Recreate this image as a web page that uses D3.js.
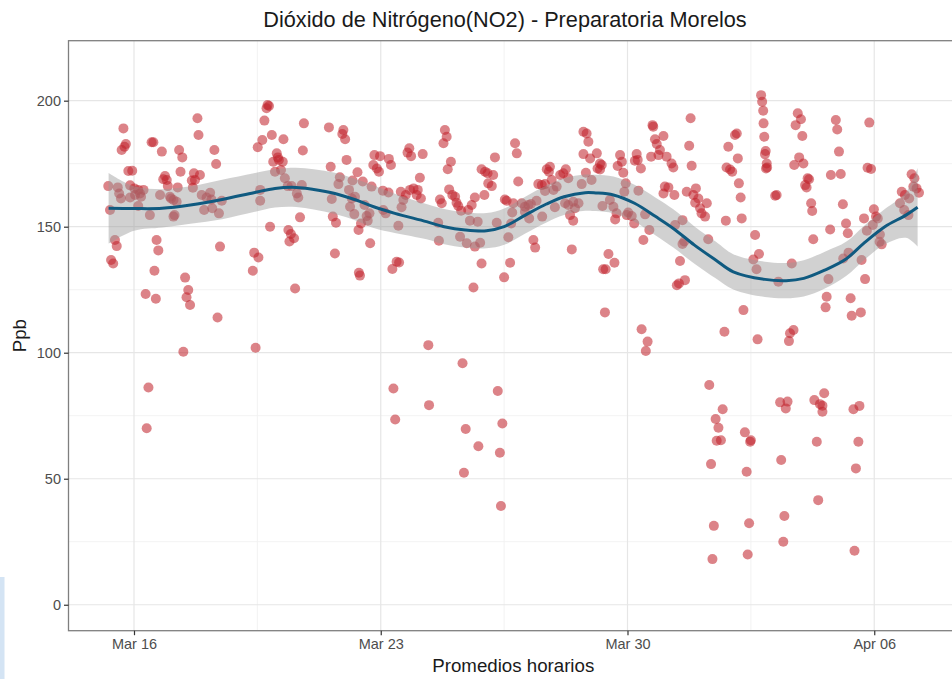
<!DOCTYPE html>
<html>
<head>
<meta charset="utf-8">
<script src="https://cdn.jsdelivr.net/npm/d3@7"></script>
<style>
  body { margin: 0; background: #fff; }
  svg { display: block; font-family: "Liberation Sans", Arial, sans-serif; }
</style>
</head>
<body>
<svg id="chart" width="952" height="679"></svg>
<script>
// hourly NO2 readings, [days since Mar 15 00:00, ppb]
const readingsMar15to19 = [
  [0.70,189.0],[0.77,182.8],[0.73,181.7],[0.65,180.4],[1.50,183.5],[1.55,183.5],[1.79,179.8],[2.80,193.0],
  [2.83,186.4],[2.28,180.4],[2.37,177.5],[3.28,180.4],[3.33,174.9],[0.84,172.1],[0.95,172.2],[1.88,170.1],
  [1.83,168.8],[1.93,168.5],[2.32,171.8],[2.70,171.2],[2.87,170.5],[2.73,168.5],[2.64,168.3],[0.27,166.1],
  [0.54,165.6],[0.89,166.4],[1.01,165.2],[1.12,164.6],[1.27,164.6],[0.58,163.2],[0.63,161.2],[0.89,161.6],
  [1.03,162.6],[1.20,161.9],[1.17,163.2],[1.96,166.1],[2.24,165.6],[2.67,165.5],[1.74,162.6],[2.02,161.9],
  [2.12,160.6],[2.21,159.9],[2.05,161.2],[2.92,162.6],[3.16,163.5],[3.06,161.6],[3.20,160.8],[3.49,160.3],
  [1.12,158.2],[1.45,154.6],[2.15,154.6],[2.12,154.0],[0.32,156.6],[2.99,156.6],[3.22,157.3],[3.41,155.3],
  [0.46,144.7],[0.51,142.3],[1.64,144.7],[1.69,140.6],[3.44,142.1],[0.35,136.8],[0.41,135.4],[4.41,139.7],
  [4.53,137.8],[4.37,132.5],[1.58,132.5],[2.45,129.8],[2.54,124.9],[2.49,122.0],[2.59,118.9],[1.33,123.3],
  [1.62,121.4],[3.37,114.0],[2.40,100.4],[4.45,102.0],[1.41,86.2],[1.36,70.0]
];
const readingsMar19to24 = [
  [4.79,198.3],[4.76,197.0],[4.83,197.9],[4.70,192.1],[4.91,186.4],[4.64,184.4],[4.51,181.5],[5.24,184.7],
  [5.82,191.0],[5.79,180.2],[6.53,189.4],[6.94,188.4],[6.91,186.8],[6.99,184.7],[7.03,176.5],[6.58,173.8],
  [5.05,179.1],[4.95,175.8],[5.11,176.5],[5.22,175.8],[5.08,177.5],[5.00,171.8],[5.17,172.5],[5.28,169.2],
  [5.36,166.1],[5.47,166.1],[5.76,166.5],[5.62,163.2],[5.66,161.6],[4.58,164.6],[4.58,160.3],[7.82,178.4],
  [7.98,178.0],[7.79,174.5],[7.89,173.1],[7.95,171.8],[8.23,176.9],[8.29,174.5],[7.34,171.6],[6.84,169.6],
  [7.20,168.3],[7.49,167.9],[6.80,166.9],[7.74,165.9],[8.06,164.3],[8.22,163.6],[7.10,164.6],[7.18,161.2],
  [7.27,161.9],[6.61,161.0],[7.13,157.9],[7.54,158.6],[7.25,155.0],[7.68,155.3],[7.60,154.2],[7.63,152.4],
  [7.44,151.3],[7.37,148.7],[8.07,156.6],[8.14,155.3],[6.64,154.0],[6.73,151.6],[5.71,153.7],[4.86,150.0],
  [5.38,148.7],[5.45,147.1],[5.54,145.4],[5.41,144.1],[7.70,143.4],[6.70,139.4],[7.38,131.7],[7.41,130.6],
  [8.45,136.1],[8.52,135.8],[8.33,133.2],[5.57,125.5],[8.36,85.8],[8.41,73.5],[8.81,181.1],[8.76,179.4],
  [8.86,178.0],[9.19,178.8],[9.11,169.4],[8.57,163.9],[8.71,162.6],[8.83,164.6],[8.93,165.2],[9.05,164.6],
  [9.02,162.6],[9.14,161.2],[8.64,160.6],[8.59,157.7],[8.50,150.4]
];
const readingsMar24to29 = [
  [9.82,188.4],[9.87,185.7],[9.78,183.1],[9.99,175.8],[9.90,172.8],[11.24,177.5],[11.81,183.1],[11.86,179.1],
  [10.86,172.8],[10.96,171.8],[11.03,171.2],[11.19,170.5],[11.05,167.2],[11.15,166.1],[9.94,164.8],[10.03,162.6],
  [10.11,161.9],[10.15,159.5],[10.20,158.2],[9.68,160.8],[9.73,159.3],[10.67,161.6],[10.58,158.6],[10.48,156.6],
  [10.28,156.3],[10.94,162.6],[9.63,151.6],[9.65,144.4],[10.53,152.4],[10.75,152.0],[11.29,151.6],[10.25,146.0],
  [10.44,143.4],[10.67,142.1],[10.82,143.6],[10.86,135.4],[11.62,145.8],[11.67,135.7],[11.50,129.9],[10.63,125.9],
  [11.52,160.8],[11.57,160.3],[11.76,159.3],[11.73,155.6],[11.70,151.3],[11.90,167.9],[12.00,159.3],[12.09,157.9],
  [12.19,158.6],[12.26,159.0],[12.42,160.3],[12.09,155.9],[12.21,153.3],[12.33,144.7],[12.38,141.7],[12.47,166.9],
  [12.57,166.5],[12.66,166.9],[12.71,172.8],[12.80,173.8],[12.77,171.8],[12.85,168.5],[12.99,165.9],[13.09,170.5],
  [13.18,171.2],[13.25,172.8],[13.32,169.2],[12.66,164.2],[12.90,164.6],[12.58,154.0],[12.94,157.7],[13.23,159.3],
  [13.32,158.6],[13.46,159.9],[13.61,159.3],[13.51,157.3],[13.37,154.6],[13.46,152.4],[13.42,141.0],[13.70,166.9],
  [13.82,171.4],[13.75,187.7],[13.84,187.0],[13.89,183.7],[13.75,178.8],[13.94,177.1],[13.98,168.5],[9.35,103.0],
  [9.37,79.2],[10.32,95.8],[11.32,84.8],[11.45,71.9],[10.41,69.7],[10.77,62.9],[11.38,60.3],[10.36,52.4],
  [11.41,39.2]
];
const readingsMar29toApr03 = [
  [14.13,179.1],[14.22,175.1],[14.27,174.5],[14.15,173.1],[14.22,172.7],[14.79,178.4],[14.84,175.8],[14.72,174.1],
  [14.88,171.4],[15.26,178.8],[15.29,176.5],[15.21,176.2],[15.38,173.1],[15.71,190.3],[15.73,189.7],[16.02,186.0],
  [15.78,184.7],[15.83,182.8],[15.92,180.4],[15.88,178.4],[15.67,177.8],[16.11,177.8],[16.25,175.1],[16.30,173.5],
  [16.79,193.0],[16.75,182.1],[16.82,174.2],[14.95,167.2],[14.91,163.9],[15.31,164.3],[16.06,165.9],[16.16,165.6],
  [16.02,163.2],[16.33,162.6],[16.68,163.9],[16.94,165.2],[16.87,162.6],[17.01,161.2],[16.92,159.5],[17.06,157.3],
  [17.25,159.3],[17.10,155.3],[17.20,154.0],[14.29,158.2],[14.50,160.6],[14.60,157.9],[14.69,155.3],[14.65,152.9],
  [15.02,155.6],[15.12,154.2],[15.19,151.3],[14.98,154.6],[15.50,154.9],[15.62,148.7],[15.45,144.7],[16.56,152.6],
  [16.35,150.7],[16.61,144.1],[16.56,143.1],[17.29,145.0],[14.46,139.2],[14.63,135.7],[14.31,133.1],[14.38,133.1],
  [16.49,136.4],[16.40,126.8],[16.46,127.5],[16.63,128.8],[14.36,116.0],[15.40,109.3],[15.57,104.4],[15.52,100.7],
  [17.79,152.4],[18.24,153.3],[17.86,181.7],[18.05,186.4],[18.10,187.0],[18.13,177.1],[17.81,173.5],[17.91,172.7],
  [17.97,171.8],[18.16,167.2],[18.21,161.6],[18.62,146.7],[18.73,139.2],[18.57,137.0],[18.66,133.1],[18.29,116.9],
  [17.75,108.3],[18.69,105.3],[17.32,87.2],[17.70,77.6],[17.50,73.7],[17.58,70.2],[17.53,65.1],[17.65,65.3],
  [17.37,55.8],[18.33,68.4],[18.50,65.3],[18.48,64.7],[18.38,52.8],[17.45,31.3],[18.45,32.3],[17.41,18.1],
  [18.41,19.9],[18.79,202.2],[18.82,199.6],[18.85,196.0],[18.86,191.0],[18.88,185.7],[18.92,180.0],[18.90,178.8],
  [18.95,175.1],[18.96,173.5],[18.93,173.1]
];
const readingsApr03to07 = [
  [19.83,195.0],[19.92,192.6],[19.77,190.3],[19.96,186.0],[19.87,177.5],[19.73,174.5],[19.99,175.1],[20.11,169.2],
  [20.15,168.8],[20.04,166.5],[20.08,165.6],[19.23,162.6],[19.19,162.3],[20.21,159.3],[20.24,156.2],[20.91,192.3],
  [20.95,188.6],[21.00,179.8],[21.86,191.3],[20.77,170.5],[21.05,170.9],[21.81,173.4],[21.91,172.9],[21.11,158.9],
  [21.20,151.3],[21.25,147.4],[20.75,148.9],[21.71,153.3],[21.99,156.9],[22.05,154.0],[22.10,153.3],[21.96,150.7],
  [21.79,148.4],[20.27,145.0],[22.16,146.9],[22.21,143.0],[22.15,144.0],[23.06,170.8],[23.14,169.2],[22.78,163.9],
  [22.87,162.6],[22.99,161.2],[23.11,165.9],[23.20,165.2],[23.27,163.5],[22.73,159.3],[22.85,156.6],[22.97,154.6],
  [19.66,135.4],[19.28,128.2],[21.12,137.4],[21.27,139.7],[21.64,136.8],[21.74,129.2],[20.70,129.2],[20.65,122.2],
  [20.62,118.0],[21.33,121.6],[21.36,114.7],[21.62,116.0],[19.71,109.0],[19.61,107.7],[19.58,104.6],[19.33,80.3],
  [19.54,80.6],[19.49,77.9],[20.30,81.2],[20.58,83.9],[20.46,79.6],[20.53,79.0],[20.53,76.6],[21.41,77.6],
  [21.58,78.9],[20.37,64.7],[21.55,64.7],[19.36,57.4],[21.48,54.1],[20.41,41.5],[19.45,35.2],[19.42,25.0],
  [21.44,21.4]
];

// loess fit and its confidence half-width
const smoothDay = [0.28, 1.0, 1.8, 2.6, 3.5, 4.4, 5.0, 5.6, 6.1, 6.7, 7.3, 7.8, 8.4, 9.3, 9.8, 10.4, 11.0, 11.5,
  12.1, 12.7, 13.2, 13.8, 14.1, 14.6, 15.2, 15.8, 16.3, 16.9, 17.5, 18.0, 18.9, 19.5, 20.0, 20.6, 21.2, 21.7, 22.3, 22.9, 23.23];
const smoothFit = [157.3, 157.2, 157.3, 158.6, 160.8, 163.5, 165.2, 165.6, 164.8, 163.2, 160.6, 157.9, 155.3, 152.0,
  150.0, 148.7, 148.4, 150.0, 154.6, 159.0, 161.9, 163.5, 163.4, 162.6, 159.3, 154.0, 149.3, 142.7, 136.8, 132.1,
  129.1, 128.6, 129.5, 132.8, 137.2, 143.4, 150.0, 154.6, 157.7];
const smoothHalf = [14.0, 8.8, 7.6, 7.4, 7.8, 7.7, 7.6, 7.8, 8.0, 8.2, 8.2, 8.4, 7.8, 7.0, 7.0, 7.0, 7.0, 7.2, 7.3,
  7.3, 7.3, 7.2, 7.2, 7.3, 7.3, 7.5, 7.6, 7.4, 7.3, 7.0, 7.0, 7.0, 7.2, 7.3, 6.8, 6.8, 7.0, 9.0, 15.6];

const yTicks = [0, 50, 100, 150, 200];
const yMinor = [25, 75, 125, 175];
const xTickDays = [1, 8, 15, 22];
const xTickLabels = ['Mar 16', 'Mar 23', 'Mar 30', 'Apr 06'];
const xMinorDays = [4.5, 11.5, 18.5];

const t0 = Date.UTC(2020, 2, 15);
const toDate = (d) => new Date(t0 + d * 864e5);

const width = 952;
const height = 679;
const panel = { left: 68.5, right: 958, top: 40.7, bottom: 630.7 };

const svg = d3.select('#chart');

const x = d3.scaleUtc().domain([toDate(-0.858), toDate(24.376)]).range([panel.left, panel.right]);
const y = d3.scaleLinear().domain([-10.3, 223.8]).range([panel.bottom, panel.top]);

// screenshot sliver at the bottom-left edge
svg.append('rect').attr('x', 0).attr('y', 577).attr('width', 4.5).attr('height', height - 577).attr('fill', '#d4e4f4');

const grid = svg.append('g');
grid.selectAll('.yminor').data(yMinor).join('line')
  .attr('x1', panel.left).attr('x2', panel.right)
  .attr('y1', (d) => y(d)).attr('y2', (d) => y(d))
  .attr('stroke', '#f0f0f0').attr('stroke-width', 0.9);
grid.selectAll('.xminor').data(xMinorDays).join('line')
  .attr('x1', (d) => x(toDate(d))).attr('x2', (d) => x(toDate(d)))
  .attr('y1', panel.top).attr('y2', panel.bottom)
  .attr('stroke', '#f0f0f0').attr('stroke-width', 0.9);
grid.selectAll('.ymajor').data(yTicks).join('line')
  .attr('x1', panel.left).attr('x2', panel.right)
  .attr('y1', (d) => y(d)).attr('y2', (d) => y(d))
  .attr('stroke', '#e6e6e6').attr('stroke-width', 1.2);
grid.selectAll('.xmajor').data(xTickDays).join('line')
  .attr('x1', (d) => x(toDate(d))).attr('x2', (d) => x(toDate(d)))
  .attr('y1', panel.top).attr('y2', panel.bottom)
  .attr('stroke', '#e6e6e6').attr('stroke-width', 1.2);

const readings = [].concat(readingsMar15to19, readingsMar19to24, readingsMar24to29, readingsMar29toApr03, readingsApr03to07);

svg.append('g')
  .selectAll('circle')
  .data(readings)
  .join('circle')
  .attr('cx', (d) => x(toDate(d[0])))
  .attr('cy', (d) => y(d[1]))
  .attr('r', 5)
  .attr('fill', '#c0222b')
  .attr('fill-opacity', 0.56);

const smooth = smoothDay.map((d, i) => ({ day: d, fit: smoothFit[i], half: smoothHalf[i] }));

svg.append('path')
  .datum(smooth)
  .attr('fill', '#999999')
  .attr('fill-opacity', 0.45)
  .attr('d', d3.area()
    .x((d) => x(toDate(d.day)))
    .y0((d) => y(d.fit - d.half))
    .y1((d) => y(d.fit + d.half))
    .curve(d3.curveCatmullRom));

svg.append('path')
  .datum(smooth)
  .attr('fill', 'none')
  .attr('stroke', '#0f5a80')
  .attr('stroke-width', 3)
  .attr('d', d3.line()
    .x((d) => x(toDate(d.day)))
    .y((d) => y(d.fit))
    .curve(d3.curveCatmullRom));

// panel border
svg.append('rect')
  .attr('x', panel.left).attr('y', panel.top)
  .attr('width', panel.right - panel.left).attr('height', panel.bottom - panel.top)
  .attr('fill', 'none').attr('stroke', '#7f7f7f').attr('stroke-width', 1.3);

// axes
const yAxis = svg.append('g').attr('transform', `translate(${panel.left},0)`)
  .call(d3.axisLeft(y).tickValues(yTicks).tickSize(4.5).tickPadding(3));
const xAxis = svg.append('g').attr('transform', `translate(0,${panel.bottom})`)
  .call(d3.axisBottom(x).tickValues(xTickDays.map(toDate)).tickSize(4.5).tickPadding(4)
    .tickFormat((d, i) => xTickLabels[i]));
[yAxis, xAxis].forEach((a) => {
  a.select('.domain').remove();
  a.selectAll('.tick line').attr('stroke', '#333333').attr('stroke-width', 1.2);
  a.selectAll('.tick text').attr('fill', '#4d4d4d').attr('font-size', 14.5)
    .attr('font-family', '"Liberation Sans", Arial, sans-serif');
});

svg.append('text')
  .attr('x', 505).attr('y', 27)
  .attr('text-anchor', 'middle')
  .attr('font-size', 21.7)
  .attr('fill', '#1a1a1a')
  .text('Dióxido de Nitrógeno(NO2) - Preparatoria Morelos');

svg.append('text')
  .attr('x', (panel.left + panel.right) / 2).attr('y', 672)
  .attr('text-anchor', 'middle')
  .attr('font-size', 18.7)
  .attr('fill', '#1a1a1a')
  .text('Promedios horarios');

svg.append('text')
  .attr('transform', `translate(26,${(panel.top + panel.bottom) / 2}) rotate(-90)`)
  .attr('text-anchor', 'middle')
  .attr('font-size', 18.7)
  .attr('fill', '#1a1a1a')
  .text('Ppb');
</script>
</body>
</html>
